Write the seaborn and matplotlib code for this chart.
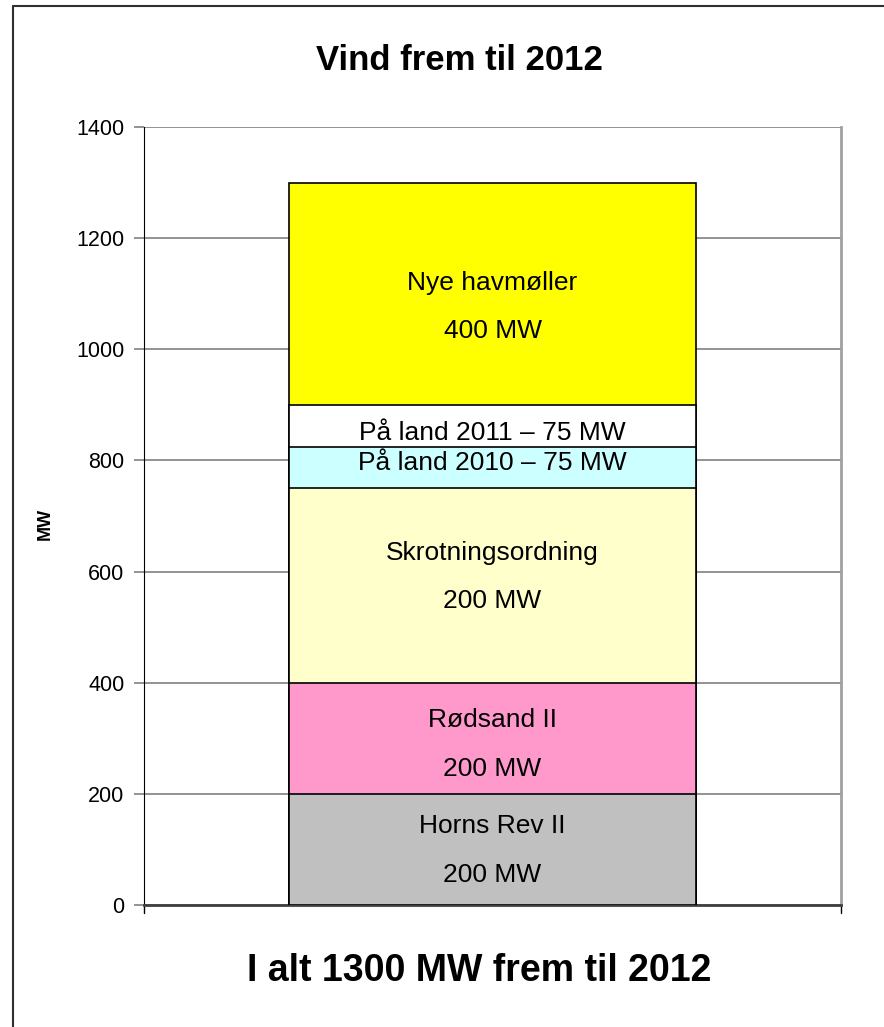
import matplotlib
matplotlib.use("Agg")
import matplotlib.pyplot as plt
import seaborn as sns
import numpy as np
import pandas as pd

# segmenter fra bunden og op (MW som tegnet)
segmenter = ["Horns Rev II", "Rødsand II", "Skrotningsordning",
             "På land 2010", "På land 2011", "Nye havmøller"]
vaerdier = [200, 200, 350, 75, 75, 400]
farver = ["#C0C0C0", "#FF99CC", "#FFFFCC", "#CCFFFF", "#FFFFFF", "#FFFF00"]
etiketter = [["Horns Rev II", "200 MW"], ["Rødsand II", "200 MW"],
             ["Skrotningsordning", "200 MW"], ["På land 2010 – 75 MW"],
             ["På land 2011 – 75 MW"], ["Nye havmøller", "400 MW"]]
# grundlinje (i MW) for hver tekstlinje
etiket_y = [[130, 41], [320, 232], [620, 535], [782], [836], [1107, 1020]]
yticks = [0, 200, 400, 600, 800, 1000, 1200, 1400]

sns.set_style("white")
plt.rcParams['font.family'] = ['Liberation Sans', 'DejaVu Sans']
plt.rcParams['text.color'] = 'black'
plt.rcParams['axes.labelcolor'] = 'black'
plt.rcParams['ytick.labelcolor'] = 'black'

df = pd.DataFrame({"segment": segmenter, "MW": vaerdier})
df["top"] = df["MW"].cumsum()

fig = plt.figure(figsize=(8.84, 10.27), dpi=100)
ax = fig.add_axes([144 / 884, 1 - 905 / 1027, 697 / 884, 778 / 1027])

# stablet soejle: tegn kumulative hoejder oeverst foerst
for i in range(len(df) - 1, -1, -1):
    sns.barplot(x=[""], y=[df["top"][i]], color=farver[i], width=0.585,
                edgecolor="black", linewidth=1.2, saturation=1, ax=ax, zorder=3)

ax.set_xlim(-0.5, 0.5)
ax.set_ylim(0, 1400)
ax.set_yticks(yticks)
ax.set_yticklabels([str(t) for t in yticks], fontsize=15.5)
ax.set_xticks([])
ax.yaxis.grid(True, color="#808080", linewidth=1.2, zorder=0)
ax.set_axisbelow(True)
ax.tick_params(axis="y", left=True, length=7, color="#808080", width=1.2, pad=7)
ax.spines["left"].set_color("black")
ax.spines["right"].set_color("#A0A0A0")
ax.spines["right"].set_linewidth(2)
ax.spines["top"].set_visible(False)
ax.spines["bottom"].set_color("#404040")
ax.spines["bottom"].set_linewidth(2)
ax.set_xlabel("")
ax.set_ylabel("MW", fontsize=13, fontweight="bold")
ax.yaxis.set_label_coords((54 - 144) / 697, 0.49)

# smaa kategori-streger under x-aksen
for xx in [-0.5, 0.5]:
    ax.plot([xx, xx], [0, -14], color="black", lw=1, clip_on=False)

# tekst i segmenterne
for linjer, ys in zip(etiketter, etiket_y):
    for tekst, yy in zip(linjer, ys):
        ax.text(0, yy, tekst, ha="center", va="baseline", fontsize=19, zorder=5)

fig.text(0.52, 1 - 61 / 1027, "Vind frem til 2012", ha="center", va="center",
         fontsize=25, fontweight="bold")
fig.text(0.542, 1 - 971 / 1027, "I alt 1300 MW frem til 2012", ha="center", va="center",
         fontsize=27, fontweight="bold")

# ramme (venstre og top)
fig.add_artist(plt.Line2D([13 / 884, 13 / 884], [0, 1 - 6 / 1027], color="#303030", lw=1.5))
fig.add_artist(plt.Line2D([13 / 884, 1], [1 - 6 / 1027, 1 - 6 / 1027], color="#303030", lw=1.5))

fig.savefig("out.png", dpi=100)
